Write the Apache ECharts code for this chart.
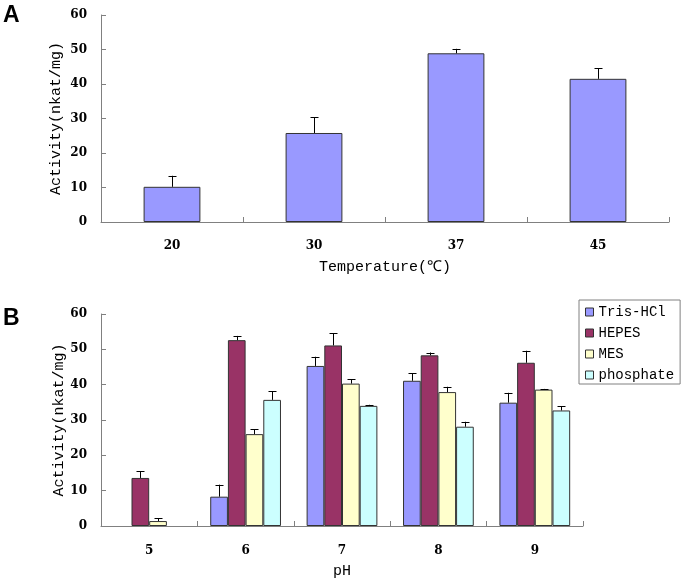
<!DOCTYPE html>
<html>
<head>
<meta charset="utf-8">
<style>html,body{margin:0;padding:0;background:#fff;}#c{width:683px;height:582px;}</style>
<script src="https://cdn.jsdelivr.net/npm/echarts@6/dist/echarts.min.js"></script>
</head>
<body>
<div id="c"></div>
<script>
// Panel A: temperature
var tempCats = ['20', '30', '37', '45'];
var tempMean = [10.2, 25.8, 48.9, 41.5];
var tempErr = [3.2, 4.5, 1.3, 3.0];

// Panel B: pH
var phCats = ['5', '6', '7', '8', '9'];
var bufferNames = ['Tris-HCl', 'HEPES', 'MES', 'phosphate'];
var trisMean = [null, 8.3, 45.3, 41.1, 34.9];
var trisErr = [null, 3.4, 2.6, 2.1, 2.8];
var hepesMean = [13.6, 52.6, 51.1, 48.3, 46.2];
var hepesErr = [1.9, 1.2, 3.4, 0.8, 3.4];
var mesMean = [1.4, 26.0, 40.3, 37.9, 38.6];
var mesErr = [0.8, 1.4, 1.3, 1.5, 0.2];
var phosMean = [null, 35.7, 34.0, 28.1, 32.7];
var phosErr = [null, 2.5, 0.3, 1.4, 1.2];
var yTicks = [0, 10, 20, 30, 40, 50, 60];

var colors = ['#9999FF', '#993366', '#FFFFCC', '#CCFFFF'];
var means = [trisMean, hepesMean, mesMean, phosMean];
var errs = [trisErr, hepesErr, mesErr, phosErr];

var axisColor = '#808080';
var monoFont = '"Liberation Mono", "DejaVu Sans Mono", monospace';
var serifFont = '"DejaVu Serif", "Liberation Serif", serif';
var catGap = 0.266;

function errRender(offsetFn) {
  return function (params, api) {
    var x = api.value(0), m = api.value(1), e = api.value(2);
    if (m == null || isNaN(m) || e == null || isNaN(e)) return;
    var p0 = api.coord([x, m]);
    var p1 = api.coord([x, m + e]);
    var off = offsetFn(api);
    var cx = Math.round(p0[0] + off) + 0.5;
    var half = 4;
    return {
      type: 'group',
      children: [
        { type: 'line', shape: { x1: cx, y1: p0[1], x2: cx, y2: p1[1] }, style: { stroke: '#000', lineWidth: 1 } },
        { type: 'line', shape: { x1: cx - half, y1: Math.round(p1[1]) + 0.5, x2: cx + half, y2: Math.round(p1[1]) + 0.5 }, style: { stroke: '#000', lineWidth: 1 } }
      ]
    };
  };
}

var series = [];
series.push({
  type: 'bar', xAxisIndex: 0, yAxisIndex: 0, barWidth: '40%',
  data: tempMean,
  itemStyle: { color: colors[0], borderColor: '#333', borderWidth: 1 },
  silent: true, z: 2
});
series.push({
  type: 'custom', xAxisIndex: 0, yAxisIndex: 0,
  data: tempMean.map(function (v, i) { return [i, v, tempErr[i]]; }),
  renderItem: errRender(function () { return 0; }),
  silent: true, z: 3
});
bufferNames.forEach(function (name, si) {
  series.push({
    name: name, type: 'bar', xAxisIndex: 1, yAxisIndex: 1,
    barGap: '0%', barCategoryGap: (catGap * 100) + '%',
    data: means[si],
    itemStyle: { color: colors[si], borderColor: '#333', borderWidth: 1 },
    silent: true, z: 2
  });
});
bufferNames.forEach(function (name, si) {
  series.push({
    type: 'custom', xAxisIndex: 1, yAxisIndex: 1,
    data: means[si].map(function (v, i) { return [i, v, errs[si][i]]; }),
    renderItem: errRender(function (api) {
      var bw = api.size([1, 0])[0] * (1 - catGap) / 4;
      return (si - 1.5) * bw;
    }),
    silent: true, z: 3
  });
});

function yAxisCfg(gridIndex, gap) {
  return {
    type: 'value', gridIndex: gridIndex, min: 0, max: 60, interval: 10,
    name: 'Activity(nkat/mg)', nameLocation: 'middle', nameGap: gap, nameRotate: 90,
    nameMoveOverlap: false,
    nameTextStyle: { color: '#000', fontFamily: monoFont, fontSize: 15 },
    axisLine: { show: true, lineStyle: { color: axisColor, width: 1 } },
    axisTick: { show: true, inside: true, length: 5, lineStyle: { color: axisColor } },
    axisLabel: { color: '#000', fontFamily: serifFont, fontSize: 12, fontWeight: 'bold', margin: 14,
      formatter: function (v) { return yTicks.indexOf(v) >= 0 ? String(v) : ''; } },
    splitLine: { show: false }
  };
}
function xAxisCfg(gridIndex, cats, name, gap, margin) {
  return {
    type: 'category', gridIndex: gridIndex, data: cats,
    name: name, nameLocation: 'middle', nameGap: gap,
    nameMoveOverlap: false,
    nameTextStyle: { color: '#000', fontFamily: monoFont, fontSize: 15 },
    axisLine: { show: true, lineStyle: { color: axisColor, width: 1 } },
    axisTick: { show: true, inside: true, length: 5, lineStyle: { color: axisColor } },
    axisLabel: { color: '#000', fontFamily: serifFont, fontSize: 12, fontWeight: 'bold', margin: margin },
    splitLine: { show: false }
  };
}

var chart = echarts.init(document.getElementById('c'), null, { renderer: 'canvas' });
chart.setOption({
  animation: false,
  backgroundColor: '#fff',
  grid: [
    { left: 101, top: 15, right: 14, bottom: 360, containLabel: false },
    { left: 101, top: 314, right: 100, bottom: 56, containLabel: false }
  ],
  xAxis: [
    xAxisCfg(0, tempCats, 'Temperature(℃)', 38, 18),
    xAxisCfg(1, phCats, 'pH', 38, 19)
  ],
  yAxis: [yAxisCfg(0, 37), yAxisCfg(1, 34)],
  legend: {
    data: bufferNames,
    orient: 'vertical', left: 579, top: 300,
    padding: [5, 6, 2, 6], itemGap: 7, itemWidth: 8, itemHeight: 8,
    icon: 'rect',
    borderColor: axisColor, borderWidth: 1, borderRadius: 0,
    itemStyle: { borderColor: '#333', borderWidth: 1 },
    textStyle: { color: '#000', fontFamily: monoFont, fontSize: 14, lineHeight: 14 },
    selectedMode: false
  },
  graphic: [
    { type: 'text', left: 3, top: 4, style: { text: 'A', fill: '#000', font: 'bold 23px "Liberation Sans", Arial, sans-serif' } },
    { type: 'text', left: 3, top: 307, style: { text: 'B', fill: '#000', font: 'bold 23px "Liberation Sans", Arial, sans-serif' } }
  ],
  series: series
});
</script>
</body>
</html>
